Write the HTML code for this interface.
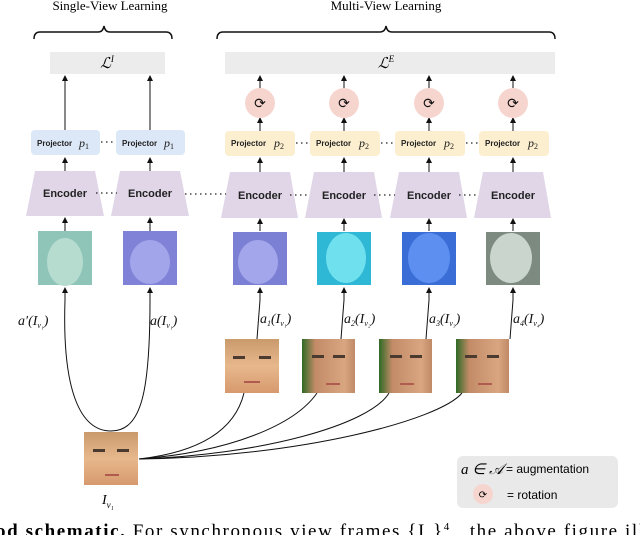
<!DOCTYPE html>
<html><head><meta charset="utf-8"><style>
html,body{margin:0;padding:0;background:#fff;width:640px;height:535px;overflow:hidden}
svg{display:block}
.t{font-family:"Liberation Serif",serif;}
.s{font-family:"Liberation Sans",sans-serif;font-weight:bold;}
</style></head><body>
<svg width="640" height="535" viewBox="0 0 640 535" xmlns="http://www.w3.org/2000/svg">
<defs>
<marker id="ar" markerWidth="6" markerHeight="6" refX="5" refY="3" orient="auto"><path d="M0,0 L6,3 L0,6 z" fill="#111"/></marker>
<linearGradient id="sk" x1="0" y1="0" x2="0" y2="1"><stop offset="0" stop-color="#c99a6c"/><stop offset=".5" stop-color="#e7b88c"/><stop offset="1" stop-color="#d7996e"/></linearGradient>
<linearGradient id="sg" x1="0" y1="0" x2="1" y2="0"><stop offset="0" stop-color="#2e6a25"/><stop offset=".25" stop-color="#c38b68"/><stop offset=".8" stop-color="#d8a680"/><stop offset="1" stop-color="#c08a66"/></linearGradient>
</defs>
<text x="110" y="10" class="t" font-size="13" text-anchor="middle">Single-View Learning</text>
<text x="386" y="10" class="t" font-size="13" text-anchor="middle">Multi-View Learning</text>
<path d="M34,39 Q34,32 40,32 L98,32 Q103,32 104,26 Q105,32 110,32 L166,32 Q172,32 172,39" fill="none" stroke="#111" stroke-width="1.5"/>
<path d="M217,39 Q217,32 223,32 L380,32 Q385,32 386,26 Q387,32 392,32 L549,32 Q555,32 555,39" fill="none" stroke="#111" stroke-width="1.5"/>
<rect x="50" y="52" width="115" height="22" fill="#ececec"/>
<text x="107" y="68" class="t" font-size="15" font-style="italic" text-anchor="middle">ℒ<tspan font-size="9" dy="-6">I</tspan></text>
<rect x="225" y="52" width="330" height="22" fill="#ececec"/>
<text x="386" y="68" class="t" font-size="15" font-style="italic" text-anchor="middle">ℒ<tspan font-size="9" dy="-6">E</tspan></text>
<g stroke="#111" stroke-width="1" fill="none" marker-end="url(#ar)">
<line x1="65" y1="130" x2="65" y2="76"/><line x1="150" y1="130" x2="150" y2="76"/>
<line x1="260" y1="88" x2="260" y2="76"/><line x1="344" y1="88" x2="344" y2="76"/><line x1="429" y1="88" x2="429" y2="76"/><line x1="513" y1="88" x2="513" y2="76"/>
<line x1="260" y1="131" x2="260" y2="118"/><line x1="344" y1="131" x2="344" y2="118"/><line x1="429" y1="131" x2="429" y2="118"/><line x1="513" y1="131" x2="513" y2="118"/>
<line x1="65" y1="171" x2="65" y2="158"/><line x1="150" y1="171" x2="150" y2="158"/><line x1="260" y1="172" x2="260" y2="158"/><line x1="344" y1="172" x2="344" y2="158"/><line x1="429" y1="172" x2="429" y2="158"/><line x1="513" y1="172" x2="513" y2="158"/>
<line x1="65" y1="231" x2="65" y2="218"/><line x1="150" y1="231" x2="150" y2="218"/><line x1="260" y1="231" x2="260" y2="219"/><line x1="344" y1="231" x2="344" y2="219"/><line x1="429" y1="231" x2="429" y2="219"/><line x1="513" y1="231" x2="513" y2="219"/>
<line x1="65" y1="300" x2="65" y2="288"/><line x1="150" y1="300" x2="150" y2="288"/><line x1="260" y1="300" x2="260" y2="288"/><line x1="344" y1="300" x2="344" y2="288"/><line x1="429" y1="300" x2="429" y2="288"/><line x1="513" y1="300" x2="513" y2="288"/>
</g>
<g fill="#f7d5cf">
<circle cx="260" cy="103" r="15"/><circle cx="344" cy="103" r="15"/><circle cx="429" cy="103" r="15"/><circle cx="513" cy="103" r="15"/>
</g>
<g font-size="14" text-anchor="middle" class="t" fill="#111">
<text x="260" y="108">⟳</text><text x="344" y="108">⟳</text><text x="429" y="108">⟳</text><text x="513" y="108">⟳</text>
</g>
<g fill="#dce8f8"><rect x="31" y="130" width="69" height="25" rx="4"/><rect x="116" y="130" width="69" height="25" rx="4"/></g>
<g fill="#fcefcf"><rect x="225" y="131" width="70" height="25" rx="4"/><rect x="310" y="131" width="70" height="25" rx="4"/><rect x="395" y="131" width="70" height="25" rx="4"/><rect x="479" y="131" width="70" height="25" rx="4"/></g>
<g font-size="8" class="s" fill="#222">
<text x="37" y="146">Projector</text><text x="122" y="146">Projector</text>
<text x="231" y="146">Projector</text><text x="316" y="146">Projector</text><text x="401" y="146">Projector</text><text x="485" y="146">Projector</text>
</g>
<g font-size="12" class="t" font-style="italic" fill="#222">
<text x="79" y="147">p<tspan font-size="8" font-style="normal" dy="2">1</tspan></text><text x="164" y="147">p<tspan font-size="8" font-style="normal" dy="2">1</tspan></text>
<text x="274" y="147">p<tspan font-size="8" font-style="normal" dy="2">2</tspan></text><text x="359" y="147">p<tspan font-size="8" font-style="normal" dy="2">2</tspan></text><text x="444" y="147">p<tspan font-size="8" font-style="normal" dy="2">2</tspan></text><text x="528" y="147">p<tspan font-size="8" font-style="normal" dy="2">2</tspan></text>
</g>
<g fill="#e0d6e8">
<polygon points="35,171 95,171 104,216 26,216"/><polygon points="120,171 180,171 189,216 111,216"/>
<polygon points="230,172 290,172 298,218 221,218"/><polygon points="314,172 374,172 382,218 305,218"/><polygon points="399,172 459,172 467,218 390,218"/><polygon points="483,172 543,172 551,218 474,218"/>
</g>
<g font-size="11" class="s" fill="#222" text-anchor="middle">
<text x="65" y="197">Encoder</text><text x="150" y="197">Encoder</text><text x="260" y="199">Encoder</text><text x="344" y="199">Encoder</text><text x="429" y="199">Encoder</text><text x="513" y="199">Encoder</text>
</g>
<g stroke="#222" stroke-width="1.2" stroke-dasharray="1.5,3.5">
<line x1="101" y1="142" x2="114" y2="142"/><line x1="296" y1="143" x2="309" y2="143"/><line x1="381" y1="143" x2="394" y2="143"/><line x1="466" y1="143" x2="478" y2="143"/>
<line x1="96" y1="193" x2="117" y2="193"/><line x1="185" y1="194" x2="226" y2="194"/><line x1="290" y1="195" x2="310" y2="195"/><line x1="374" y1="195" x2="395" y2="195"/><line x1="459" y1="195" x2="479" y2="195"/>
</g>
<rect x="38" y="231" width="54" height="54" fill="#8fc4b8"/><ellipse cx="65" cy="262" rx="18" ry="24" fill="#b5dccf"/>
<rect x="123" y="231" width="54" height="54" fill="#7f82d6"/><ellipse cx="150" cy="262" rx="20" ry="22" fill="#a2a5ea"/>
<rect x="233" y="232" width="54" height="53" fill="#7c80d4"/><ellipse cx="258" cy="262" rx="20" ry="22" fill="#a3a6ea"/>
<rect x="317" y="232" width="54" height="53" fill="#2fb7d6"/><ellipse cx="346" cy="258" rx="20" ry="25" fill="#6fe0ee"/>
<rect x="402" y="232" width="54" height="53" fill="#3a6ed6"/><ellipse cx="429" cy="258" rx="21" ry="25" fill="#5d8ff0"/>
<rect x="486" y="232" width="54" height="53" fill="#7d8a80"/><ellipse cx="511" cy="258" rx="21" ry="25" fill="#c9d5cd"/>
<g font-size="14" class="t" font-style="italic" fill="#111">
<text x="18" y="325">a′(I<tspan font-size="8" dy="3">v₁</tspan><tspan dy="-3">)</tspan></text>
<text x="150" y="325">a(I<tspan font-size="8" dy="3">v₁</tspan><tspan dy="-3">)</tspan></text>
<text x="260" y="323">a<tspan font-size="8" dy="3">1</tspan><tspan dy="-3">(I</tspan><tspan font-size="8" dy="3">v₁</tspan><tspan dy="-3">)</tspan></text>
<text x="344" y="323">a<tspan font-size="8" dy="3">2</tspan><tspan dy="-3">(I</tspan><tspan font-size="8" dy="3">v₂</tspan><tspan dy="-3">)</tspan></text>
<text x="429" y="323">a<tspan font-size="8" dy="3">3</tspan><tspan dy="-3">(I</tspan><tspan font-size="8" dy="3">v₃</tspan><tspan dy="-3">)</tspan></text>
<text x="513" y="323">a<tspan font-size="8" dy="3">4</tspan><tspan dy="-3">(I</tspan><tspan font-size="8" dy="3">v₄</tspan><tspan dy="-3">)</tspan></text>
</g>
<g stroke="#111" stroke-width="1" fill="none">
<path d="M65,300 C62,390 80,431 111,431 C142,431 150,390 150,300"/>
<path d="M260,300 L257,339"/><path d="M344,300 L341,339"/><path d="M429,300 L426,339"/><path d="M513,300 L510,339"/>
<path d="M139,459 C200,452 235,430 244,393"/>
<path d="M139,459 C230,452 295,425 317,393"/>
<path d="M139,459 C260,455 370,425 389,393"/>
<path d="M139,459 C300,457 440,420 462,393"/>
</g>
<rect x="225" y="339" width="54" height="54" fill="url(#sk)"/>
<rect x="302" y="339" width="53" height="54" fill="url(#sg)"/>
<rect x="379" y="339" width="53" height="54" fill="url(#sg)"/>
<rect x="456" y="339" width="53" height="54" fill="url(#sg)"/>
<rect x="84" y="432" width="54" height="53" fill="url(#sk)"/>
<g fill="#4a3a30"><rect x="233" y="356" width="12" height="3"/><rect x="259" y="356" width="12" height="3"/><rect x="93" y="449" width="12" height="3"/><rect x="117" y="449" width="12" height="3"/>
<rect x="312" y="355" width="12" height="3"/><rect x="333" y="355" width="12" height="3"/><rect x="390" y="355" width="12" height="3"/><rect x="410" y="355" width="12" height="3"/><rect x="465" y="355" width="12" height="3"/><rect x="487" y="355" width="12" height="3"/></g>
<g fill="#b05a50"><rect x="244" y="381" width="16" height="2"/><rect x="105" y="474" width="14" height="2"/><rect x="326" y="383" width="14" height="2"/><rect x="400" y="383" width="14" height="2"/><rect x="478" y="383" width="14" height="2"/></g>
<text x="102" y="504" class="t" font-size="14" font-style="italic">I<tspan font-size="9" dy="4">v₁</tspan></text>
<rect x="457" y="456" width="161" height="52" rx="6" fill="#e9e9e9"/>
<text x="461" y="474" class="t" font-size="15" font-style="italic">a ∈ 𝒜</text>
<text x="506" y="473" font-family="Liberation Sans,sans-serif" font-size="12">= augmentation</text>
<ellipse cx="483" cy="494" rx="10" ry="10" fill="#f7d5cf"/>
<text x="483" y="498" class="t" font-size="10" text-anchor="middle">⟳</text>
<text x="507" y="499" font-family="Liberation Sans,sans-serif" font-size="12">= rotation</text>
<text x="-4" y="537" class="t" font-size="19" textLength="648" lengthAdjust="spacing"><tspan font-weight="bold">od schematic.</tspan> For synchronous view frames {I<tspan font-size="11" dy="3">v</tspan><tspan dy="-3">}</tspan><tspan font-size="11" dy="-7">4</tspan><tspan dy="7">   , the above figure ill</tspan></text>
</svg>
</body></html>
